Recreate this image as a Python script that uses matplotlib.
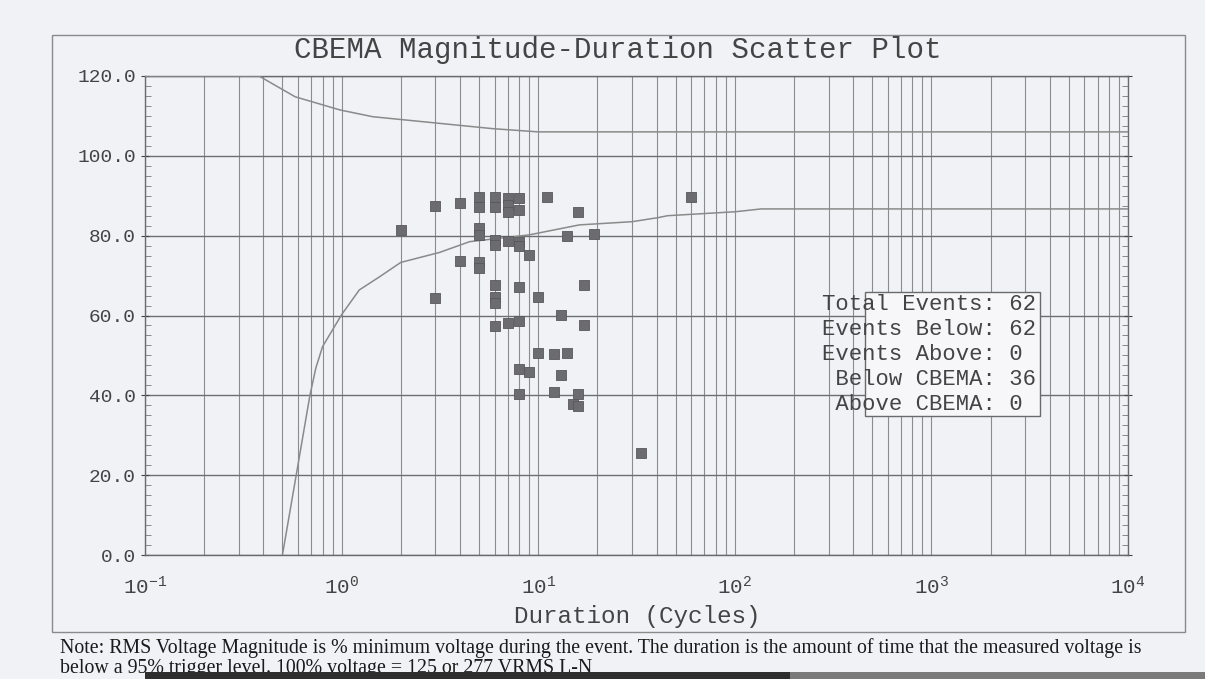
import math
import matplotlib
matplotlib.use("Agg")
import matplotlib.pyplot as plt
from matplotlib.patches import Rectangle
from matplotlib.ticker import LogLocator, MultipleLocator, FuncFormatter

# --- data ---
# event scatter: duration (cycles) and minimum RMS voltage (%)
durations = [2, 3, 3, 4, 4, 5, 5, 5, 5, 5, 5, 6, 6, 6, 6, 6, 6, 6, 6,
             7, 7, 7, 7, 7, 8, 8, 8, 8, 8, 8, 8, 8, 9, 9, 10, 10, 11.1,
             12, 12, 13, 13, 14, 14, 15, 16, 16, 16, 17, 17, 19.2, 33.4, 60]
magnitudes = [81.5, 87.5, 64.3, 88.1, 73.7, 89.8, 87.3, 81.9, 80.2, 73.5, 71.9,
              89.8, 87.3, 79.0, 77.7, 67.7, 64.7, 63.1, 57.4,
              89.4, 87.7, 86.0, 78.7, 58.2, 89.5, 86.5, 78.5, 77.5, 67.2, 58.7,
              46.5, 40.3, 75.2, 45.9, 64.6, 50.7, 89.6,
              50.4, 40.8, 60.2, 45.0, 80.0, 50.5, 37.8, 86.0, 40.3, 37.3,
              67.6, 57.6, 80.4, 25.6, 89.7]

# CBEMA envelope
upper_x = [0.1, 0.38, 0.58, 0.98, 1.44, 5.9, 10, 1e4]
upper_y = [120, 120, 114.8, 111.5, 109.8, 106.8, 106, 106]
lower_x = [0.5, 0.59, 0.69, 0.74, 0.80, 1.0, 1.23, 1.56, 2.0, 3.15, 4.48, 9.0,
           16.2, 30, 40.5, 45.5, 101, 136, 1e4]
lower_y = [0, 20.5, 40, 46.9, 52.2, 60.2, 66.4, 69.7, 73.3, 75.8, 78.5, 80.2,
           82.7, 83.5, 84.5, 85, 86, 86.7, 86.7]

summary_labels = ["Total Events: 62", "Events Below: 62", "Events Above: 0",
                  " Below CBEMA: 36", " Above CBEMA: 0"]

paper = "#f1f2f6"
grid_c = "#8c8c8c"
ink = "#444444"

plt.rcParams["font.family"] = ["Liberation Mono", "DejaVu Sans Mono"]
plt.rcParams["mathtext.fontset"] = "custom"
plt.rcParams["mathtext.rm"] = "Liberation Mono"
plt.rcParams["mathtext.it"] = "Liberation Mono"
plt.rcParams["mathtext.default"] = "rm"

fig = plt.figure(figsize=(12.05, 6.79), dpi=100, facecolor=paper)
ax = fig.add_axes([145 / 1205, 1 - 555 / 679, 983 / 1205, 479 / 679])
ax.set_facecolor(paper)

# outer frame of the printout
fig.patches.append(Rectangle((52 / 1205, 1 - 632 / 679), 1133 / 1205, 597 / 679,
                             transform=fig.transFigure, fill=False,
                             edgecolor="#8a8a8a", linewidth=1.0))

ax.set_xscale("log")
ax.set_xlim(0.1, 1e4)
ax.set_ylim(0, 120)

ax.xaxis.set_major_locator(LogLocator(base=10, numticks=10))
ax.xaxis.set_minor_locator(LogLocator(base=10, subs=range(2, 10), numticks=50))
ax.xaxis.set_major_formatter(FuncFormatter(lambda v, p: r"$10^{%d}$" % round(math.log10(v))))
ax.xaxis.set_minor_formatter(FuncFormatter(lambda v, p: ""))
ax.yaxis.set_major_locator(MultipleLocator(20))
ax.yaxis.set_minor_locator(MultipleLocator(2.5))
ax.yaxis.set_major_formatter(FuncFormatter(lambda v, p: "%.1f" % v))

ax.grid(which="major", axis="x", color=grid_c, linewidth=0.8)
ax.grid(which="minor", axis="x", color=grid_c, linewidth=0.8)
ax.grid(which="major", axis="y", color="#6e6e6e", linewidth=1.0)

ax.tick_params(axis="x", which="both", length=0, labelsize=15, colors=ink, pad=15)
ax.tick_params(axis="y", which="major", length=6, direction="inout", labelsize=14,
               colors=ink, left=True, right=True)
ax.tick_params(axis="y", which="minor", length=4, direction="in", colors="#777777",
               left=True, right=True)
for s in ax.spines.values():
    s.set_color("#6a6a6a")
    s.set_linewidth(1.0)

ax.plot(upper_x, upper_y, color="#8a8a8a", linewidth=1.1, zorder=3)
ax.plot(lower_x, lower_y, color="#8a8a8a", linewidth=1.1, zorder=3)
ax.scatter(durations, magnitudes, marker="s", s=55, color="#6c6c70",
           edgecolors="#58585c", linewidths=0.6, zorder=4)

# summary box (box starts right of the text's left edge, as in the print)
ax.add_patch(Rectangle((0.7325, 0.290), 0.1775, 0.259, transform=ax.transAxes,
                       facecolor="#f7f7f9", edgecolor="#6a6a6a", linewidth=1.0,
                       zorder=5))
for i, line in enumerate(summary_labels):
    ax.text(0.689, (555 - (305 + 24.75 * i)) / 479, line, transform=ax.transAxes,
            fontsize=16, color=ink, va="center", ha="left", zorder=6)

fig.text(0.513, 1 - 50 / 679, "CBEMA Magnitude-Duration Scatter Plot",
         fontsize=21, color=ink, ha="center", va="center")
fig.text(637 / 1205, 1 - 617 / 679, "Duration (Cycles)", fontsize=17.5,
         color=ink, ha="center", va="center")

note1 = ("Note: RMS Voltage Magnitude is % minimum voltage during the event. "
         "The duration is the amount of time that the measured voltage is")
note2 = "below a 95% trigger level. 100% voltage = 125 or 277 VRMS L-N"
fig.text(60 / 1205, 1 - 648 / 679, note1, family="Liberation Serif",
         fontsize=14.3, color="#1a1a1a", ha="left", va="center")
fig.text(60 / 1205, 1 - 669 / 679, note2, family="Liberation Serif",
         fontsize=14.3, color="#1a1a1a", ha="left", va="center")

# dark scanner edge across the bottom
fig.patches.append(Rectangle((145 / 1205, 0), 645 / 1205, 7 / 679,
                             transform=fig.transFigure, facecolor="#2e2e2e",
                             edgecolor="none", zorder=10))
fig.patches.append(Rectangle((790 / 1205, 0), 415 / 1205, 7 / 679,
                             transform=fig.transFigure, facecolor="#7a7a7a",
                             edgecolor="none", zorder=10))

fig.savefig("out.png", dpi=100, facecolor=paper)
